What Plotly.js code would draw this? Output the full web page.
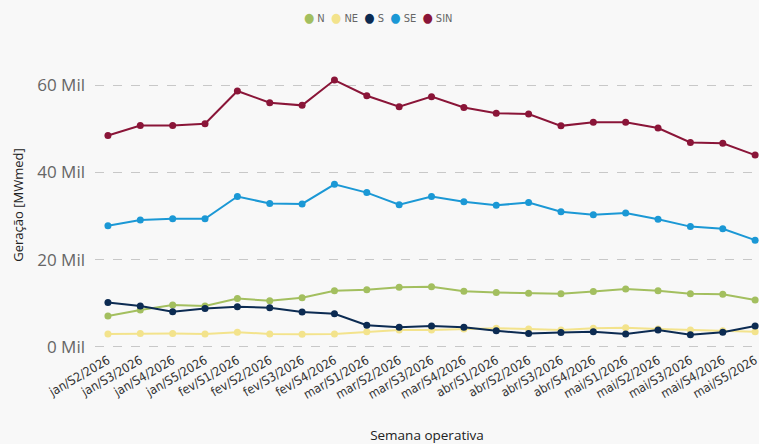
<!DOCTYPE html>
<html>
<head>
<meta charset="utf-8">
<script src="https://cdn.plot.ly/plotly-3.0.1.min.js"></script>
<style>
  html, body { margin: 0; padding: 0; background: #f8f8f8; }
  #chart { width: 759px; height: 444px; }
</style>
</head>
<body>
<div id="chart"></div>
<script>
// Semanas operativas
const semanas = [
  "jan/S2/2026", "jan/S3/2026", "jan/S4/2026", "jan/S5/2026",
  "fev/S1/2026", "fev/S2/2026", "fev/S3/2026", "fev/S4/2026",
  "mar/S1/2026", "mar/S2/2026", "mar/S3/2026", "mar/S4/2026",
  "abr/S1/2026", "abr/S2/2026", "abr/S3/2026", "abr/S4/2026",
  "mai/S1/2026", "mai/S2/2026", "mai/S3/2026", "mai/S4/2026", "mai/S5/2026"
];

// Geração por subsistema [MWmed]
const geracaoN = [7100, 8500, 9600, 9400, 11100, 10600, 11300, 12900, 13100, 13700, 13800,
  12800, 12500, 12300, 12200, 12700, 13300, 12900, 12200, 12100, 10800];
const geracaoNE = [3000, 3100, 3100, 3000, 3400, 3000, 2900, 3000, 3500, 3900, 3900,
  4100, 4300, 4100, 3900, 4300, 4400, 4100, 3900, 3700, 3500];
const geracaoS = [10200, 9400, 8100, 8800, 9200, 9000, 8000, 7600, 5000, 4500, 4800,
  4500, 3700, 3100, 3300, 3500, 3000, 3900, 2800, 3400, 4800];
const geracaoSE = [27800, 29100, 29400, 29400, 34500, 32900, 32800, 37300, 35400, 32600, 34500,
  33300, 32500, 33100, 31000, 30300, 30700, 29300, 27600, 27100, 24500];
const geracaoSIN = [48500, 50800, 50800, 51200, 58700, 56000, 55400, 61200, 57600, 55100, 57400,
  54900, 53600, 53400, 50700, 51500, 51500, 50200, 46900, 46700, 44000];

const nomes = ["N", "NE", "S", "SE", "SIN"];
const cores = ["#a3bf5f", "#f3e38c", "#0c2b52", "#1b98d5", "#8a1538"];
const series = [geracaoN, geracaoNE, geracaoS, geracaoSE, geracaoSIN];

const yTickVals = [0, 20000, 40000, 60000];
const yTickText = ["0 Mil", "20 Mil", "40 Mil", "60 Mil"];

const traces = series.map((valores, i) => ({
  type: "scatter",
  mode: "lines+markers",
  x: semanas,
  y: valores,
  name: nomes[i],
  cliponaxis: false,
  line: { color: cores[i], width: 2 },
  marker: { color: cores[i], size: 7 }
}));

// Legenda compacta: marcador circular colorido seguido do nome do subsistema
const legendaTexto = nomes
  .map((nome, i) => `<span style="color:${cores[i]};font-size:13px">●</span>&nbsp;${nome}`)
  .join("&nbsp;&nbsp;");

const layout = {
  width: 759,
  height: 444,
  paper_bgcolor: "#f8f8f8",
  plot_bgcolor: "#f8f8f8",
  margin: { l: 95, r: 0, t: 60, b: 94 },
  font: { family: "Open Sans, sans-serif", color: "#444" },
  showlegend: false,
  annotations: [{
    xref: "paper",
    yref: "paper",
    x: (378 - 95) / 664,
    y: 1 + (60 - 18) / 290,
    xanchor: "center",
    yanchor: "middle",
    showarrow: false,
    text: legendaTexto,
    font: { size: 11, color: "#666", family: "Liberation Sans Narrow, DejaVu Sans Condensed, sans-serif" }
  }],
  xaxis: {
    type: "category",
    range: [-0.4, 20.12],
    tickangle: -30,
    tickfont: { size: 12.5, color: "#333", family: "DejaVu Sans Condensed, Liberation Sans Narrow, sans-serif" },
    showgrid: false,
    zeroline: false,
    showline: false,
    ticks: "",
    automargin: false,
    title: {
      text: "Semana operativa",
      font: { size: 13.5, color: "#222", family: "Open Sans, sans-serif" },
      standoff: 30
    }
  },
  yaxis: {
    range: [-690, 65800],
    tickvals: yTickVals,
    ticktext: yTickText,
    tickfont: { size: 17, color: "#666", family: "Open Sans, sans-serif" },
    showgrid: true,
    gridcolor: "#c8c8c8",
    griddash: "dash",
    gridwidth: 1,
    zeroline: false,
    showline: false,
    ticks: "",
    ticklabelstandoff: 9,
    automargin: false,
    title: {
      text: "Geração [MWmed]",
      font: { size: 13, color: "#222", family: "Open Sans, sans-serif" },
      standoff: 10
    }
  }
};

Plotly.newPlot("chart", traces, layout, { displayModeBar: false, staticPlot: true });
</script>
</body>
</html>
